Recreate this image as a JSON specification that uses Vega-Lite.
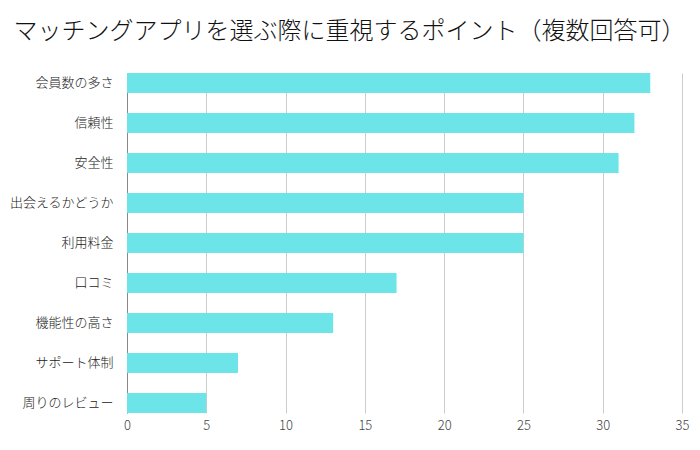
{
  "$schema": "https://vega.github.io/schema/vega-lite/v6.json",
  "width": 555,
  "height": 340,
  "autosize": {"type": "none"},
  "padding": {"left": 127, "top": 73, "right": 18, "bottom": 37},
  "background": "white",
  "title": {
    "text": "マッチングアプリを選ぶ際に重視するポイント（複数回答可）",
    "font": "Noto Sans CJK JP",
    "fontWeight": 300,
    "fontSize": 24,
    "color": "#111111",
    "anchor": "middle",
    "frame": "group",
    "dx": -55,
    "offset": 29
  },
  "data": {
    "values": [
      {"item": "会員数の多さ", "count": 33},
      {"item": "信頼性", "count": 32},
      {"item": "安全性", "count": 31},
      {"item": "出会えるかどうか", "count": 25},
      {"item": "利用料金", "count": 25},
      {"item": "口コミ", "count": 17},
      {"item": "機能性の高さ", "count": 13},
      {"item": "サポート体制", "count": 7},
      {"item": "周りのレビュー", "count": 5}
    ]
  },
  "mark": {"type": "bar", "color": "#6de5e8"},
  "encoding": {
    "y": {
      "field": "item",
      "type": "nominal",
      "sort": null,
      "scale": {"paddingInner": 0.5, "paddingOuter": 0},
      "axis": {
        "title": null,
        "ticks": false,
        "domain": true,
        "domainColor": "#888888",
        "labelFont": "Noto Sans CJK JP",
        "labelFontWeight": 300,
        "labelFontSize": 13,
        "labelColor": "#222222",
        "labelPadding": 14
      }
    },
    "x": {
      "field": "count",
      "type": "quantitative",
      "scale": {"domain": [0, 35], "nice": false},
      "axis": {
        "title": null,
        "values": [0, 5, 10, 15, 20, 25, 30, 35],
        "ticks": false,
        "domain": false,
        "grid": true,
        "gridColor": "#cccccc",
        "labelFlush": false,
        "labelFont": "Noto Sans CJK JP",
        "labelFontWeight": 300,
        "labelFontSize": 13,
        "labelColor": "#444444",
        "labelPadding": 6
      }
    }
  },
  "config": {"view": {"stroke": null}}
}
